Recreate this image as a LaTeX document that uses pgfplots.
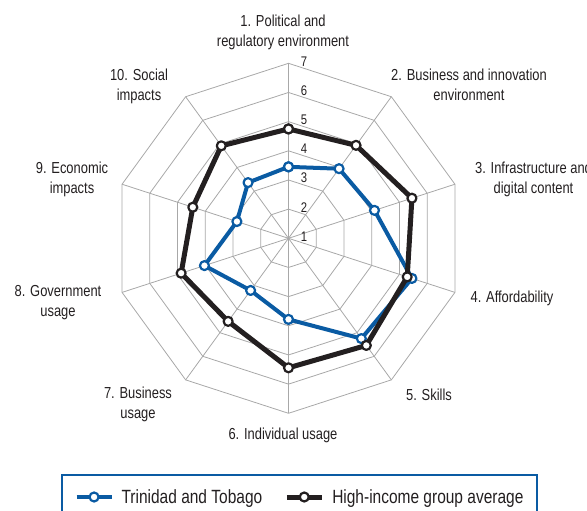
\documentclass[border=0pt]{standalone}
\usepackage{fontspec}
\setmainfont{Liberation Sans}[FakeStretch=0.81]
\usepackage{pgfplots}
\pgfplotsset{compat=1.18}
\usepgfplotslibrary{polar}
\definecolor{ttblue}{HTML}{0A5BA3}
\definecolor{hiblack}{HTML}{231F20}
\definecolor{gridgray}{HTML}{A8A8A8}
\definecolor{txt}{HTML}{231F20}
\newcommand{\lblfont}{\fontsize{16}{20}\selectfont}
\newcommand{\legfont}{\fontsize{19.2}{23}\selectfont}
\newcommand{\tickfont}{\fontsize{14}{16}\selectfont}

\begin{document}
\begin{tikzpicture}
\useasboundingbox (-288.5bp,-272.7bp) rectangle (298.5bp,238.3bp);
\begin{polaraxis}[
  at={(0,0)}, anchor=origin,
  width=350bp, height=350bp, scale only axis,
  hide axis, clip=false,
  xmin=0, xmax=360, ymin=0, ymax=6,
  y filter/.expression={y-1},
  legend columns=2,
  legend style={at={(axis cs:272.55,8.879)}, anchor=center, draw=none, fill=none,
    font=\legfont, text=txt, inner sep=0pt,
    /tikz/every odd column/.append style={column sep=6bp},
    /tikz/every even column/.append style={column sep=20bp}},
  legend image code/.code={\draw[#1, mark repeat=2, mark phase=2]
    plot coordinates {(0bp,0bp) (17.5bp,0bp) (35bp,0bp)};},
]
% decagon rings 2..7
\pgfplotsinvokeforeach{2,...,7}{
  \addplot[gridgray, line width=0.8bp, forget plot] coordinates
    {(90,#1) (54,#1) (18,#1) (342,#1) (306,#1) (270,#1) (234,#1) (198,#1) (162,#1) (126,#1) (90,#1)};
}
% spokes
\pgfplotsinvokeforeach{90,54,18,342,306,270,234,198,162,126}{
  \addplot[gridgray, line width=0.8bp, forget plot] coordinates {(#1,1) (#1,7)};
}
% Trinidad and Tobago
\addplot[ttblue, line width=4bp, line join=round, mark=*, mark size=4.5bp,
  mark options={fill=white, draw=ttblue, line width=2.2bp}] coordinates
  {(90,3.45) (54,3.95) (18,4.10) (342,5.45) (306,5.25) (270,3.78) (234,3.21) (198,4.03) (162,2.86) (126,3.36) (90,3.45)};
% High-income group average
\addplot[hiblack, line width=5bp, line join=round, mark=*, mark size=4.5bp,
  mark options={fill=white, draw=hiblack, line width=2.2bp}] coordinates
  {(90,4.75) (54,4.94) (18,5.45) (342,5.28) (306,5.54) (270,5.44) (234,4.52) (198,4.87) (162,4.45) (126,4.92) (90,4.75)};
\legend{Trinidad and Tobago, High-income group average}
\end{polaraxis}

% scale numbers on the top spoke
\foreach \v in {1,...,7}
  \node[font=\tickfont, text=txt, inner sep=0pt] at (15.5bp, {\v*29.1667bp-27.17bp}) {\v};

% category labels
\begin{scope}[every node/.style={font=\lblfont, text=txt, anchor=base, inner sep=0pt}]
\node at (-5.5bp,211.8bp) {1. Political and};
\node at (-5.5bp,191.8bp) {regulatory environment};
\node at (180.5bp,157.6bp) {2. Business and innovation};
\node at (180.5bp,137.6bp) {environment};
\node at (245bp,64.3bp) {3. Infrastructure and};
\node at (245bp,44.3bp) {digital content};
\node at (223.5bp,-64bp) {4. Affordability};
\node at (140.5bp,-161.7bp) {5. Skills};
\node at (-5.5bp,-201bp) {6. Individual usage};
\node at (-150.5bp,-160bp) {7. Business};
\node at (-150.5bp,-180bp) {usage};
\node at (-230.5bp,-57.7bp) {8. Government};
\node at (-230.5bp,-77.7bp) {usage};
\node at (-216.5bp,65bp) {9. Economic};
\node at (-216.5bp,45bp) {impacts};
\node at (-149.5bp,157.6bp) {10. Social};
\node at (-149.5bp,137.6bp) {impacts};
\end{scope}

% legend frame, bottom edge falls outside the page
\draw[ttblue, line width=1.8bp] (-226.5bp,-290bp) -- (-226.5bp,-236.7bp) -- (248.5bp,-236.7bp) -- (248.5bp,-290bp);
\end{tikzpicture}
\end{document}
